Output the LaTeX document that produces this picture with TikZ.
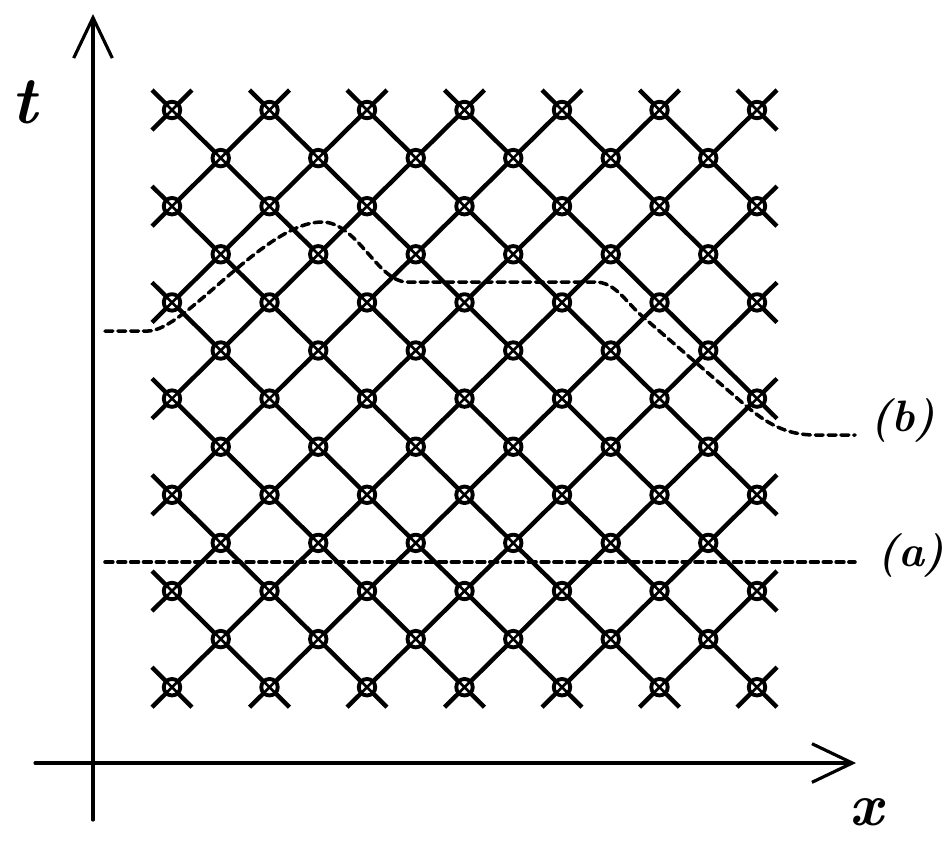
\documentclass[tikz,border=0pt]{standalone}
\usepackage{fontspec}
\usepackage{tikz}
\usetikzlibrary{arrows.meta}
\usetikzlibrary{calc,backgrounds}

\tikzset{
  site/.style={circle,draw,fill=white,line width=2.2pt,minimum size=0.33cm,inner sep=0pt,
    path picture={\draw[line width=1.5pt]
      (path picture bounding box.north west) -- (path picture bounding box.south east)
      (path picture bounding box.north east) -- (path picture bounding box.south west);}},
  bond/.style={line width=2.5pt},
  cut/.style={line width=2pt,dash pattern=on 4.5pt off 2.8pt},
  axis/.style={line width=1.8pt,-{Straight Barb[length=23pt,width=22pt]}},
  bigletter/.style={inner sep=0pt,font=\fontsize{38}{38}\selectfont\bfseries\itshape},
  cutlabel/.style={inner sep=0pt,font=\fontsize{25}{25}\selectfont\bfseries\itshape}
}

\begin{document}
\begin{tikzpicture}[x=0.02cm,y=-0.02cm,line cap=round,line join=round]
\useasboundingbox (0,0) rectangle (947,840);
% axes
\coordinate (origin-x) at (35,763);
\coordinate (end-x) at (856,763);
\coordinate (origin-t) at (93,820);
\coordinate (end-t) at (93,14);
\draw [axis] (origin-x) -- (end-x);
\draw [axis] (origin-t) -- (end-t);
\node [bigletter] (lab-t) at (24,102) {t};
\node [bigletter,font=\fontsize{34}{34}\selectfont\bfseries\itshape] (lab-x) at (866,812) {x};
% lattice sites
\foreach \i in {0,...,12}
  \foreach \j in {0,...,12}{
    \ifodd\numexpr\i+\j\relax\else
      \node [site] (v-\i-\j) at (172+48.75*\i,110+48.1*\j) {};
    \fi
  }
\begin{scope}[on background layer]
% lines going down to the right
\foreach \c in {-12,-10,...,12}{
  \pgfmathtruncatemacro\ia{max(0,\c)}
  \pgfmathtruncatemacro\ja{max(0,-\c)}
  \pgfmathtruncatemacro\ib{min(12,12+\c)}
  \pgfmathtruncatemacro\jb{min(12,12-\c)}
  \draw [bond] ($(v-\ia-\ja)+(-20,-20)$) -- ($(v-\ib-\jb)+(20,20)$);
}
% lines going up to the right
\foreach \c in {0,2,...,24}{
  \pgfmathtruncatemacro\ia{max(0,\c-12)}
  \pgfmathtruncatemacro\ja{min(12,\c)}
  \pgfmathtruncatemacro\ib{min(12,\c)}
  \pgfmathtruncatemacro\jb{max(0,\c-12)}
  \draw [bond] ($(v-\ia-\ja)+(-20,20)$) -- ($(v-\ib-\jb)+(20,-20)$);
}
\end{scope}
% cut (a)
\coordinate (a-start) at (105,562);
\coordinate (a-end) at (855,562);
\draw [cut] (a-start) -- (a-end);
\node [cutlabel] (lab-a) at (911,555) {(a)};
% cut (b)
\coordinate (b-start) at (105,331);
\coordinate (b-end) at (855,435);
\draw [cut] (b-start) -- (148,331)
  .. controls (185,331) and (265,222) .. (322,222)
  .. controls (357,222) and (378,282) .. (407,282) -- (595,282)
  .. controls (615,282) and (625,301) .. (642,316) -- (745,405)
  .. controls (765,422) and (785,435) .. (815,435) -- (b-end);
\node [cutlabel] (lab-b) at (903,420) {(b)};
\end{tikzpicture}
\end{document}
